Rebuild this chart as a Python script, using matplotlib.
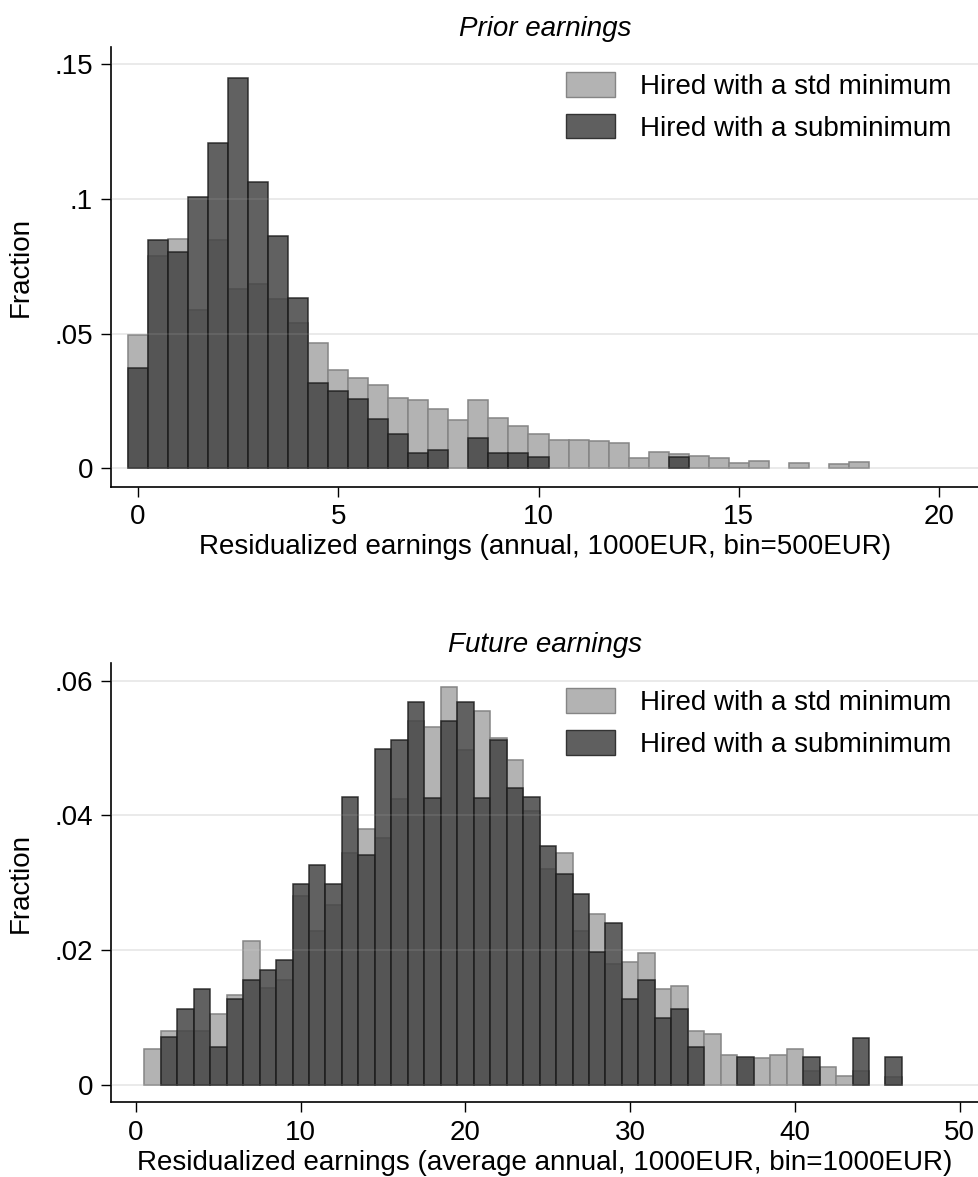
import numpy as np
import matplotlib
matplotlib.use('Agg')
from matplotlib import pyplot
from matplotlib.patches import Patch

pyplot.rcParams['font.family'] = ['Liberation Sans', 'DejaVu Sans']

# Prior earnings, bins of 500EUR (centres in 1000EUR)
prior_bins = np.arange(0, 18.5, 0.5)
prior_std = [0.0494, 0.0788, 0.0851, 0.0588, 0.0848, 0.0666, 0.0684, 0.0628,
             0.0539, 0.0465, 0.0366, 0.0335, 0.0311, 0.0261, 0.0252, 0.0221,
             0.0178, 0.0252, 0.0188, 0.0158, 0.0129, 0.0107, 0.0107, 0.0103,
             0.0094, 0.0038, 0.0059, 0.0055, 0.0045, 0.0040, 0.0021, 0.0026,
             0.0, 0.0021, 0.0, 0.0016, 0.0022]
prior_sub = [0.0373, 0.0848, 0.0804, 0.1006, 0.1206, 0.1450, 0.1063, 0.0861,
             0.0633, 0.0316, 0.0287, 0.0258, 0.0185, 0.0129, 0.0057, 0.0070,
             0.0, 0.0114, 0.0057, 0.0057, 0.0042, 0.0, 0.0, 0.0,
             0.0, 0.0, 0.0, 0.0043, 0.0, 0.0, 0.0, 0.0,
             0.0, 0.0, 0.0, 0.0, 0.0]

# Future earnings, bins of 1000EUR
future_bins = np.arange(1, 47)
future_std = [0.0053, 0.0080, 0.0080, 0.0080, 0.0106, 0.0134, 0.0214, 0.0144,
              0.0156, 0.0281, 0.0228, 0.0267, 0.0344, 0.0380, 0.0367, 0.0424,
              0.0541, 0.0532, 0.0590, 0.0497, 0.0555, 0.0515, 0.0483, 0.0406,
              0.0321, 0.0345, 0.0228, 0.0254, 0.0180, 0.0183, 0.0196, 0.0143,
              0.0147, 0.0080, 0.0075, 0.0044, 0.0039, 0.0040, 0.0044, 0.0053,
              0.0021, 0.0026, 0.0013, 0.0021, 0.0, 0.0012]
future_sub = [0.0, 0.0071, 0.0113, 0.0142, 0.0056, 0.0128, 0.0156, 0.0170,
              0.0185, 0.0298, 0.0327, 0.0298, 0.0427, 0.0342, 0.0498, 0.0512,
              0.0569, 0.0426, 0.0540, 0.0569, 0.0426, 0.0512, 0.0441, 0.0427,
              0.0355, 0.0313, 0.0284, 0.0198, 0.0241, 0.0127, 0.0156, 0.0099,
              0.0113, 0.0056, 0.0, 0.0, 0.0042, 0.0, 0.0, 0.0,
              0.0042, 0.0, 0.0, 0.0070, 0.0, 0.0042]

prior_yticks = [0, 0.05, 0.1, 0.15]
prior_ylabels = ['0', '.05', '.1', '.15']
future_yticks = [0, 0.02, 0.04, 0.06]
future_ylabels = ['0', '.02', '.04', '.06']

lab_std = 'Hired with a std minimum'
lab_sub = 'Hired with a subminimum'

fs = 20
light = '#b3b3b3'
light_edge = '#858585'
dark = '#454545'
dark_edge = '#1c1c1c'


def draw_panel(ax, bins, std, sub, width, yticks, ylabels, xticks, title, xlabel):
    bins = np.asarray(bins)
    std = np.asarray(std)
    sub = np.asarray(sub)
    m1 = std > 0
    m2 = sub > 0
    ax.bar(bins[m1], std[m1], width=width, color=light, edgecolor=light_edge,
           linewidth=1.1, zorder=2)
    ax.bar(bins[m2], sub[m2], width=width, color=dark, alpha=0.85,
           edgecolor=dark_edge, linewidth=1.1, zorder=3)

    # grid lines, faintly visible through the bars as well
    for t in yticks:
        ax.axhline(t, color='#e8e8e8', linewidth=1.2, zorder=1)
        ax.axhline(t, color='#e8e8e8', linewidth=1.2, alpha=0.12, zorder=4)

    ax.set_yticks(yticks)
    ax.set_yticklabels(ylabels)
    ax.set_xticks(xticks)
    ax.tick_params(axis='both', labelsize=fs, length=7.5, width=1.0, direction='out',
                   color='black')
    ax.tick_params(axis='y', pad=5.5)
    ax.tick_params(axis='x', pad=5)

    for s in ['top', 'right']:
        ax.spines[s].set_visible(False)
    for s in ['left', 'bottom']:
        ax.spines[s].set_linewidth(1.2)

    ax.set_ylabel('Fraction', fontsize=fs)
    ax.yaxis.set_label_coords(-0.0895, 0.5)
    ax.set_xlabel(xlabel, fontsize=fs, labelpad=3)
    ax.set_title(title, fontsize=fs, style='italic', pad=8)

    handles = [Patch(facecolor=light, edgecolor=light_edge, linewidth=1.0),
               Patch(facecolor='#5f5f5f', edgecolor='#333333', linewidth=1.0)]
    ax.legend(handles, [lab_std, lab_sub], loc='upper right', frameon=False,
              fontsize=fs, handlelength=1.76, handleheight=1.0,
              handletextpad=0.9, labelspacing=0.5,
              bbox_to_anchor=(0.968, 0.943), borderaxespad=0, borderpad=0)


fig = pyplot.figure(figsize=(9.79, 11.77), dpi=100)

ax0 = fig.add_axes([0.1134, 0.5865, 0.8866, 0.3738])
draw_panel(ax0, prior_bins, prior_std, prior_sub, 0.5,
           prior_yticks, prior_ylabels, [0, 5, 10, 15, 20],
           'Prior earnings', 'Residualized earnings (annual, 1000EUR, bin=500EUR)')
ax0.set_xlim([-0.675, 21.0])
ax0.set_ylim([-0.0068, 0.1565])

ax1 = fig.add_axes([0.1134, 0.0635, 0.8866, 0.3730])
draw_panel(ax1, future_bins, future_std, future_sub, 1.0,
           future_yticks, future_ylabels, [0, 10, 20, 30, 40, 50],
           'Future earnings', 'Residualized earnings (average annual, 1000EUR, bin=1000EUR)')
ax1.set_xlim([-1.52, 51.18])
ax1.set_ylim([-0.00257, 0.0626])

pyplot.savefig('out.png', dpi=100)
